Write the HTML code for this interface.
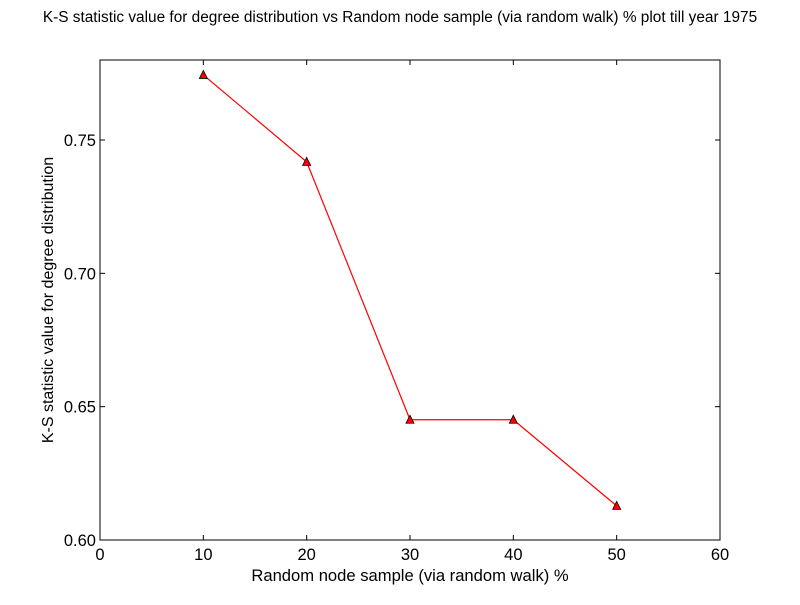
<!DOCTYPE html>
<html><head><meta charset="utf-8"><style>
body{margin:0;background:#fff;}
svg text{font-family:"Liberation Sans",sans-serif;}
</style></head><body>
<svg id="chart" width="800" height="600" xmlns="http://www.w3.org/2000/svg">
<rect width="800" height="600" fill="#fff"/>
<text x="400" y="22" text-anchor="middle" font-size="15.4">K-S statistic value for degree distribution vs Random node sample (via random walk) % plot till year 1975</text>
<g id="axes"></g>
<g id="marks"></g>
<text x="410" y="581" text-anchor="middle" font-size="16.6">Random node sample (via random walk) %</text>
<text transform="translate(53,300) rotate(-90)" text-anchor="middle" font-size="16">K-S statistic value for degree distribution</text>
</svg>
<script>
const xValues=[10,20,30,40,50];
const yValues=[0.7744,0.7418,0.6451,0.6451,0.6128];
const xTicks=[0,10,20,30,40,50,60];
const yTicks=[0.60,0.65,0.70,0.75];
const L=100,R=720,T=60,B=540;
const xMin=0,xMax=60,yMin=0.60,yMax=0.78;
const sx=v=>L+(v-xMin)/(xMax-xMin)*(R-L);
const sy=v=>B-(v-yMin)/(yMax-yMin)*(B-T);
const NS="http://www.w3.org/2000/svg";
function mk(tag,attrs,parent){const e=document.createElementNS(NS,tag);for(const k in attrs)e.setAttribute(k,attrs[k]);parent.appendChild(e);return e;}
const axes=document.getElementById('axes'),marks=document.getElementById('marks');
const frame=mk('rect',{x:L,y:T,width:R-L,height:B-T,fill:'none',stroke:'#000','stroke-width':1},axes);


xTicks.forEach(t=>{const x=sx(t);
mk('line',{x1:x,x2:x,y1:B,y2:B-5,stroke:'#000'},axes);
mk('line',{x1:x,x2:x,y1:T,y2:T+5,stroke:'#000'},axes);
const tx=mk('text',{x:x,y:B+20,'text-anchor':'middle','font-size':16.5},axes);tx.textContent=t;

});
yTicks.forEach(t=>{const y=sy(t);
mk('line',{x1:L,x2:L+5,y1:y,y2:y,stroke:'#000'},axes);
mk('line',{x1:R,x2:R-5,y1:y,y2:y,stroke:'#000'},axes);
const tx=mk('text',{x:L-4,y:y+6,'text-anchor':'end','font-size':16.5},axes);tx.textContent=t.toFixed(2);

});
const line=mk('polyline',{points:xValues.map((v,i)=>sx(v)+','+sy(yValues[i])).join(' '),fill:'none',stroke:'#f00','stroke-width':1.2},marks);


xValues.forEach((v,i)=>{const x=sx(v),y=sy(yValues[i]);
const p=mk('polygon',{points:`${x},${y-4.5} ${x-4},${y+3.5} ${x+4},${y+3.5}`,fill:'#f00',stroke:'#000','stroke-width':0.8},marks);

});
</script>
</body></html>
